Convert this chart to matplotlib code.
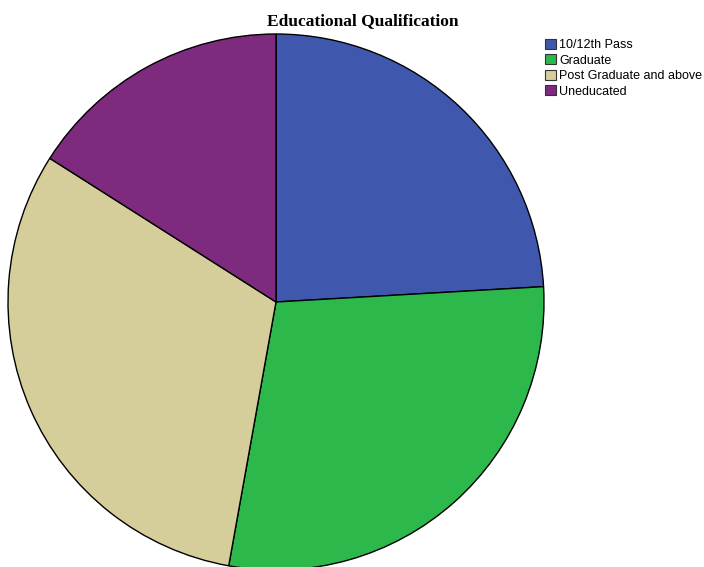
import matplotlib.pyplot as plt
from matplotlib.patches import Patch

categories = ["10/12th Pass", "Graduate", "Post Graduate and above", "Uneducated"]
shares = [24.1, 28.75, 31.2, 16.0]
colors = ["#3F58AE", "#2DB84B", "#D5CE9A", "#7E2A7E"]

W, H = 704, 567
fig = plt.figure(figsize=(W / 100, H / 100), dpi=100)
ax = fig.add_axes([0, 0, 1, 1])

# pie centre / radius in pixel units
ax.pie(shares, colors=colors, startangle=90, counterclock=False,
       center=(276, H - 302), radius=268, frame=True,
       wedgeprops=dict(edgecolor="black", linewidth=1))
ax.set_xlim(0, W)
ax.set_ylim(0, H)
ax.set_aspect("equal")
ax.axis("off")

fig.text(363 / W, 1 - 21 / H, "Educational Qualification", ha="center", va="center",
         family="Liberation Serif", fontweight="bold", fontsize=12.5)

handles = [Patch(facecolor=c, edgecolor="#333333", linewidth=0.8) for c in colors]
fig.legend(handles, categories, loc="upper left", bbox_to_anchor=(545 / W, 1 - 39 / H),
           frameon=False, prop=dict(family="Liberation Sans", size=9),
           handlelength=0.85, handleheight=0.85, handletextpad=0.3,
           labelspacing=0.25, borderpad=0, borderaxespad=0)

fig.savefig("out.png", dpi=100)
